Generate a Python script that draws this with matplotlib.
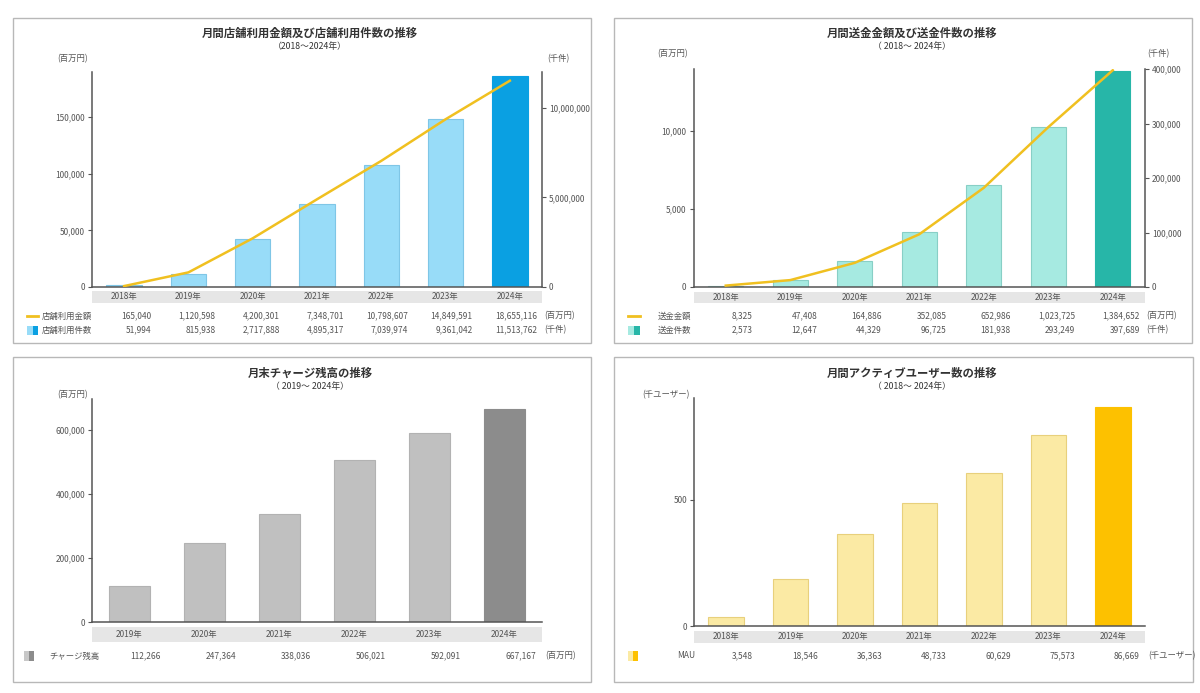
import numpy as np
import matplotlib
matplotlib.use("Agg")
import matplotlib.pyplot as plt
import matplotlib.transforms as mtransforms
from matplotlib.patches import Rectangle
from matplotlib.lines import Line2D
from matplotlib.ticker import FuncFormatter

plt.rcParams["font.family"] = ["Noto Sans CJK JP", "DejaVu Sans"]

# Data (table values)
years_7 = ["2018年", "2019年", "2020年", "2021年", "2022年", "2023年", "2024年"]
years_6 = ["2019年", "2020年", "2021年", "2022年", "2023年", "2024年"]

store_amount = [165040, 1120598, 4200301, 7348701, 10798607, 14849591, 18655116]
store_count = [51994, 815938, 2717888, 4895317, 7039974, 9361042, 11513762]

transfer_amount = [8325, 47408, 164886, 352085, 652986, 1023725, 1384652]
transfer_count = [2573, 12647, 44329, 96725, 181938, 293249, 397689]

charge_balance = [112266, 247364, 338036, 506021, 592091, 667167]

mau = [3548, 18546, 36363, 48733, 60629, 75573, 86669]

# bars in the original are drawn at 1/100 of the tabled figure
bar_scale = 100

W, H = 1200, 693
fig = plt.figure(figsize=(W / 100, H / 100), dpi=100)

TXT = "#555555"
TITLE = "#333333"
AXIS = "#555555"
LINE = "#F0C020"


def px_axes(x0, y0, x1, y1):
    return fig.add_axes([x0 / W, 1 - y1 / H, (x1 - x0) / W, (y1 - y0) / H])


def ftext(x, y, s, **kw):
    kw.setdefault("color", TXT)
    kw.setdefault("fontsize", 6)
    kw.setdefault("va", "center")
    fig.text(x / W, 1 - y / H, s, **kw)


def frame(x0, y0, x1, y1, **kw):
    kw.setdefault("fill", False)
    kw.setdefault("edgecolor", "#b8b8b8")
    kw.setdefault("lw", 1)
    fig.add_artist(Rectangle((x0 / W, 1 - y1 / H), (x1 - x0) / W, (y1 - y0) / H,
                             transform=fig.transFigure, **kw))


def swatch(x0, y0, x1, y1, light, dark):
    mid = (x0 + x1) / 2
    frame(x0, y0, mid, y1, fill=True, facecolor=light, edgecolor="none")
    frame(mid, y0, x1, y1, fill=True, facecolor=dark, edgecolor="none")


def line_key(x0, x1, y):
    fig.add_artist(Line2D([x0 / W, x1 / W], [1 - y / H, 1 - y / H],
                          transform=fig.transFigure, color=LINE, lw=2))


comma = FuncFormatter(lambda v, p: f"{int(v):,}")


def style(ax, n, ylim, yticks, right=False):
    ax.set_xlim(-0.5, n - 0.5)
    ax.set_ylim(*ylim)
    ax.set_yticks(yticks)
    ax.yaxis.set_major_formatter(comma)
    ax.set_xticks([])
    ax.patch.set_alpha(0)
    for s in ["top", "right", "left", "bottom"]:
        ax.spines[s].set_visible(False)
    side = "right" if right else "left"
    ax.spines[side].set_visible(True)
    ax.spines[side].set_color(AXIS)
    ax.spines[side].set_linewidth(1.1)
    if not right:
        ax.spines["bottom"].set_visible(True)
        ax.spines["bottom"].set_color(AXIS)
        ax.spines["bottom"].set_linewidth(1.1)
    ax.tick_params(axis="y", length=3, width=0.8, color=AXIS, labelsize=6,
                   labelcolor=TXT, pad=2)


def band(ax, x0, x1, y0, y1, labels, ylab):
    frame(x0, y0, x1, y1, fill=True, facecolor="#e6e6e6", edgecolor="none",
          zorder=-1)
    tr = mtransforms.blended_transform_factory(ax.transData, fig.transFigure)
    for i, lab in enumerate(labels):
        ax.text(i, 1 - ylab / H, lab, transform=tr, ha="center", va="center",
                fontsize=6, color=TXT)


def row(ax, values, y, unit, unit_x):
    tr = mtransforms.blended_transform_factory(ax.transData, fig.transFigure)
    for i, v in enumerate(values):
        ax.text(i + 0.42, 1 - y / H, f"{v:,}", transform=tr, ha="right",
                va="center", fontsize=6, color=TXT)
    ftext(unit_x, y, unit)


def bars(ax, values, light, dark, edge):
    x = np.arange(len(values))
    colors = [light] * (len(values) - 1) + [dark]
    edges = [edge] * (len(values) - 1) + [dark]
    ax.bar(x, values, width=0.55, color=colors, edgecolor=edges, lw=0.8, zorder=2)


def titles(cx, y, title, sub):
    ftext(cx, y, title, ha="center", fontsize=8.2, color=TITLE, weight="bold")
    ftext(cx, y + 14, sub, ha="center", fontsize=6.3, color=TITLE)


# ---------- panel 1: store usage ----------
frame(12.7, 18.3, 591, 343)
titles(310, 33, "月間店舗利用金額及び店舗利用件数の推移", "（2018～2024年）")
ftext(73, 59, "(百万円)", ha="center")
ftext(558, 59, "(千件)", ha="center")
ax1 = px_axes(92, 72, 542, 287)
bars(ax1, np.array(store_amount) / bar_scale, "#98DCF8", "#0AA0E2", "#7fc6e6")
style(ax1, 7, (0, 190000), [0, 50000, 100000, 150000])
ax1r = ax1.twinx()
ax1r.plot(np.arange(7), store_count, color=LINE, lw=1.8, zorder=3)
style(ax1r, 7, (0, 12000000), [0, 5000000, 10000000], right=True)
band(ax1, 92, 542, 291, 303, years_7, 297)
line_key(27, 38, 316)
ftext(41.5, 316, "店舗利用金額")
row(ax1, store_amount, 316, "(百万円)", 544)
swatch(27, 325.5, 38, 335, "#98DCF8", "#0AA0E2")
ftext(41.5, 330, "店舗利用件数")
row(ax1, store_count, 330, "(千件)", 544)

# ---------- panel 2: transfers ----------
frame(614, 18.3, 1192, 343)
titles(912, 33, "月間送金金額及び送金件数の推移", "（ 2018～ 2024年）")
ftext(673, 54, "(百万円)", ha="center")
ftext(1158, 54, "(千件)", ha="center")
ax2 = px_axes(693.5, 69, 1145, 287)
bars(ax2, np.array(transfer_amount) / bar_scale, "#A6EAE1", "#27B6A8", "#88cfc6")
style(ax2, 7, (0, 13970), [0, 5000, 10000])
ax2r = ax2.twinx()
ax2r.plot(np.arange(7), transfer_count, color=LINE, lw=1.8, zorder=3)
style(ax2r, 7, (0, 400000), [0, 100000, 200000, 300000, 400000], right=True)
band(ax2, 693.5, 1145, 292, 303, years_7, 297.5)
line_key(628, 640, 316)
ftext(658, 316, "送金金額")
row(ax2, transfer_amount, 316, "(百万円)", 1146)
swatch(628, 325.5, 640, 335, "#A6EAE1", "#27B6A8")
ftext(658, 330, "送金件数")
row(ax2, transfer_count, 330, "(千件)", 1146)

# ---------- panel 3: charge balance ----------
frame(12.7, 357, 591, 682)
titles(310, 373, "月末チャージ残高の推移", "（ 2019～ 2024年）")
ftext(73, 395, "(百万円)", ha="center")
ax3 = px_axes(92, 399, 542, 622)
bars(ax3, charge_balance, "#C0C0C0", "#8C8C8C", "#b2b2b2")
style(ax3, 6, (0, 698000), [0, 200000, 400000, 600000])
band(ax3, 92, 542, 627, 642, years_6, 635)
swatch(24, 651, 34, 661, "#C8C8C8", "#8C8C8C")
ftext(49, 656, "チャージ残高")
row(ax3, charge_balance, 656, "(百万円)", 545)

# ---------- panel 4: MAU ----------
frame(614, 357, 1193, 682)
titles(912, 373, "月間アクティブユーザー数の推移", "（ 2018～ 2024年）")
ftext(666, 395, "(千ユーザー)", ha="center")
ax4 = px_axes(694, 398, 1145, 626)
bars(ax4, np.array(mau) / bar_scale, "#FBEAA4", "#FDC100", "#e8d07c")
style(ax4, 7, (0, 902), [0, 500])
band(ax4, 694, 1145, 631, 643, years_7, 637)
swatch(628, 651, 638, 661, "#FBEAA4", "#FDC100")
ftext(677, 656, "MAU")
row(ax4, mau, 656, "(千ユーザー)", 1148)

fig.savefig("out.png", dpi=100)
